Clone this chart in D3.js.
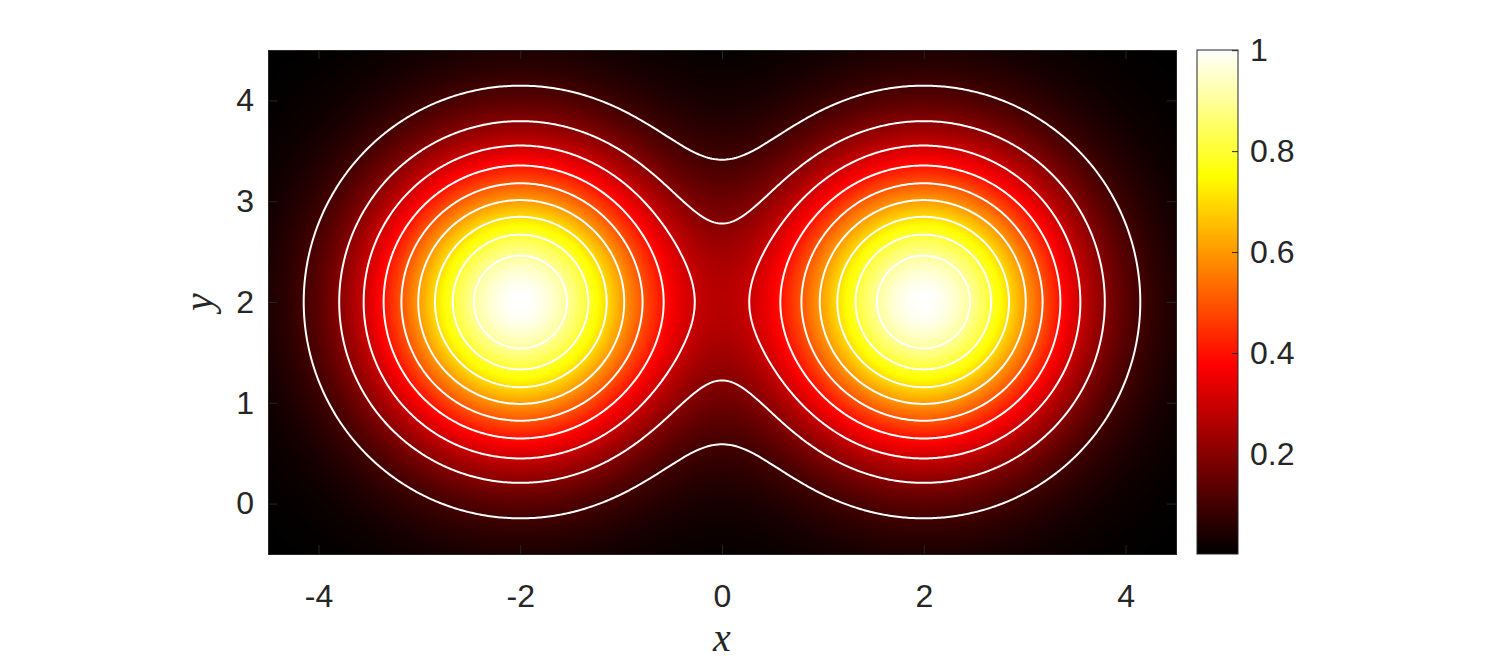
<!DOCTYPE html>
<html>
<head>
<meta charset="utf-8">
<script src="https://cdn.jsdelivr.net/npm/d3@7"></script>
<style>
body { margin: 0; background: #fff; }
.tick text { font-family: "Liberation Sans", Arial, sans-serif; }
</style>
</head>
<body>
<div id="my_dataviz"></div>
<script>
// two round bumps: centres, widths, heights
var peakX = [-2, 2];
var peakY = [2, 2];
var peakSigma = [1, 1];
var peakHeight = [1, 1];

// white contour levels
var contourLevels = [0.1, 0.2, 0.3, 0.4, 0.5, 0.6, 0.7, 0.8, 0.9];

// axes
var xRange = [-4.5, 4.5];
var yRange = [-0.5, 4.5];
var xTicks = [-4, -2, 0, 2, 4];
var yTicks = [0, 1, 2, 3, 4];
var cbTicks = [0.2, 0.4, 0.6, 0.8, 1];
var gridStep = 0.02;

var margin = { top: 50, left: 268 },
    width = 908,
    height = 504;

var svg = d3.select("#my_dataviz")
    .append("svg")
    .attr("width", 1500)
    .attr("height", 666);

var g = svg.append("g")
    .attr("transform", "translate(" + margin.left + "," + margin.top + ")");

var x = d3.scaleLinear().domain(xRange).range([0, width]);
var y = d3.scaleLinear().domain(yRange).range([height, 0]);

function field(px, py) {
    var s = 0;
    for (var i = 0; i < peakX.length; i++) {
        var dx = px - peakX[i], dy = py - peakY[i];
        s += peakHeight[i] * Math.exp(-(dx * dx + dy * dy) / (2 * peakSigma[i] * peakSigma[i]));
    }
    return s;
}

// sample the field on a grid (top row first) for the contours and the colour limits
var nx = Math.round((xRange[1] - xRange[0]) / gridStep) + 1,
    ny = Math.round((yRange[1] - yRange[0]) / gridStep) + 1;
var values = new Array(nx * ny);
for (var j = 0; j < ny; j++) {
    for (var i = 0; i < nx; i++) {
        values[i + j * nx] = field(xRange[0] + i * gridStep, yRange[1] - j * gridStep);
    }
}
var clim = d3.extent(values);

// matlab "hot"
function hot(t) {
    t = Math.max(0, Math.min(1, t));
    var r = Math.min(1, t / 0.375),
        gg = Math.max(0, Math.min(1, (t - 0.375) / 0.375)),
        b = Math.max(0, Math.min(1, (t - 0.75) / 0.25));
    return [r * 255, gg * 255, b * 255];
}
var norm = d3.scaleLinear().domain(clim).range([0, 1]).clamp(true);

// heat map, one canvas pixel per screen pixel
var canvas = document.createElement("canvas");
canvas.width = width;
canvas.height = height;
var ctx = canvas.getContext("2d");
var img = ctx.createImageData(width, height);
for (var py = 0; py < height; py++) {
    var vy = y.invert(py + 0.5);
    for (var px = 0; px < width; px++) {
        var c = hot(norm(field(x.invert(px + 0.5), vy)));
        var k = (py * width + px) * 4;
        img.data[k] = c[0];
        img.data[k + 1] = c[1];
        img.data[k + 2] = c[2];
        img.data[k + 3] = 255;
    }
}
ctx.putImageData(img, 0, 0);

g.append("image")
    .attr("width", width)
    .attr("height", height)
    .attr("preserveAspectRatio", "none")
    .attr("href", canvas.toDataURL());

// contour lines
svg.append("clipPath").attr("id", "clip")
    .append("rect").attr("width", width).attr("height", height);

var contours = d3.contours()
    .size([nx, ny])
    .thresholds(contourLevels)(values);

var proj = d3.geoTransform({
    point: function (cx, cy) {
        this.stream.point(x(xRange[0] + (cx - 0.5) * gridStep), y(yRange[1] - (cy - 0.5) * gridStep));
    }
});

g.append("g")
    .attr("clip-path", "url(#clip)")
    .selectAll("path")
    .data(contours)
    .enter()
    .append("path")
    .attr("d", d3.geoPath(proj))
    .attr("fill", "none")
    .attr("stroke", "#fff")
    .attr("stroke-width", 2)
    .attr("stroke-linejoin", "round");

// axes with inward ticks, box on
var tickCol = "#262626";
var xAxis = g.append("g")
    .attr("transform", "translate(0," + height + ")")
    .call(d3.axisBottom(x).tickValues(xTicks).tickSize(-9).tickPadding(30).tickFormat(function (d) { return d; }));
var xAxisTop = g.append("g")
    .call(d3.axisTop(x).tickValues(xTicks).tickSize(-9).tickFormat(""));
var yAxis = g.append("g")
    .call(d3.axisLeft(y).tickValues(yTicks).tickSize(-9).tickPadding(14).tickFormat(function (d) { return d; }));
var yAxisRight = g.append("g")
    .attr("transform", "translate(" + width + ",0)")
    .call(d3.axisRight(y).tickValues(yTicks).tickSize(-9).tickFormat(""));

[xAxis, xAxisTop, yAxis, yAxisRight].forEach(function (a) {
    a.select(".domain").attr("stroke", tickCol);
    a.selectAll(".tick line").attr("stroke", tickCol);
    a.selectAll(".tick text").attr("fill", tickCol).style("font-size", "32px");
});

// axis labels, latex style
svg.append("text")
    .attr("x", margin.left + width / 2)
    .attr("y", 651)
    .attr("text-anchor", "middle")
    .style("font-family", "'Liberation Serif', 'Times New Roman', serif")
    .style("font-style", "italic")
    .style("font-size", "40px")
    .attr("fill", tickCol)
    .text("x");

svg.append("text")
    .attr("transform", "translate(212," + (margin.top + height / 2) + ") rotate(-90)")
    .attr("text-anchor", "middle")
    .style("font-family", "'Liberation Serif', 'Times New Roman', serif")
    .style("font-style", "italic")
    .style("font-size", "40px")
    .attr("fill", tickCol)
    .text("y");

// colorbar
var cbX = 1197, cbW = 41;
var cb = d3.scaleLinear().domain(clim).range([height, 0]);
var cbCanvas = document.createElement("canvas");
cbCanvas.width = 1;
cbCanvas.height = height;
var cbCtx = cbCanvas.getContext("2d");
var cbImg = cbCtx.createImageData(1, height);
for (var r = 0; r < height; r++) {
    var cc = hot(norm(cb.invert(r + 0.5)));
    cbImg.data[r * 4] = cc[0];
    cbImg.data[r * 4 + 1] = cc[1];
    cbImg.data[r * 4 + 2] = cc[2];
    cbImg.data[r * 4 + 3] = 255;
}
cbCtx.putImageData(cbImg, 0, 0);

var cbg = svg.append("g")
    .attr("transform", "translate(" + cbX + "," + margin.top + ")");
cbg.append("image")
    .attr("width", cbW)
    .attr("height", height)
    .attr("preserveAspectRatio", "none")
    .attr("href", cbCanvas.toDataURL());
cbg.append("rect")
    .attr("width", cbW)
    .attr("height", height)
    .attr("fill", "none")
    .attr("stroke", tickCol)
    .attr("stroke-width", 1);
var cbAxis = cbg.append("g")
    .attr("transform", "translate(" + cbW + ",0)")
    .call(d3.axisRight(cb).tickValues(cbTicks).tickSize(-6).tickPadding(12).tickFormat(function (d) { return d; }));
cbAxis.select(".domain").remove();
cbAxis.selectAll(".tick line").attr("stroke", tickCol);
cbAxis.selectAll(".tick text").attr("fill", tickCol).style("font-size", "32px");
</script>
</body>
</html>
